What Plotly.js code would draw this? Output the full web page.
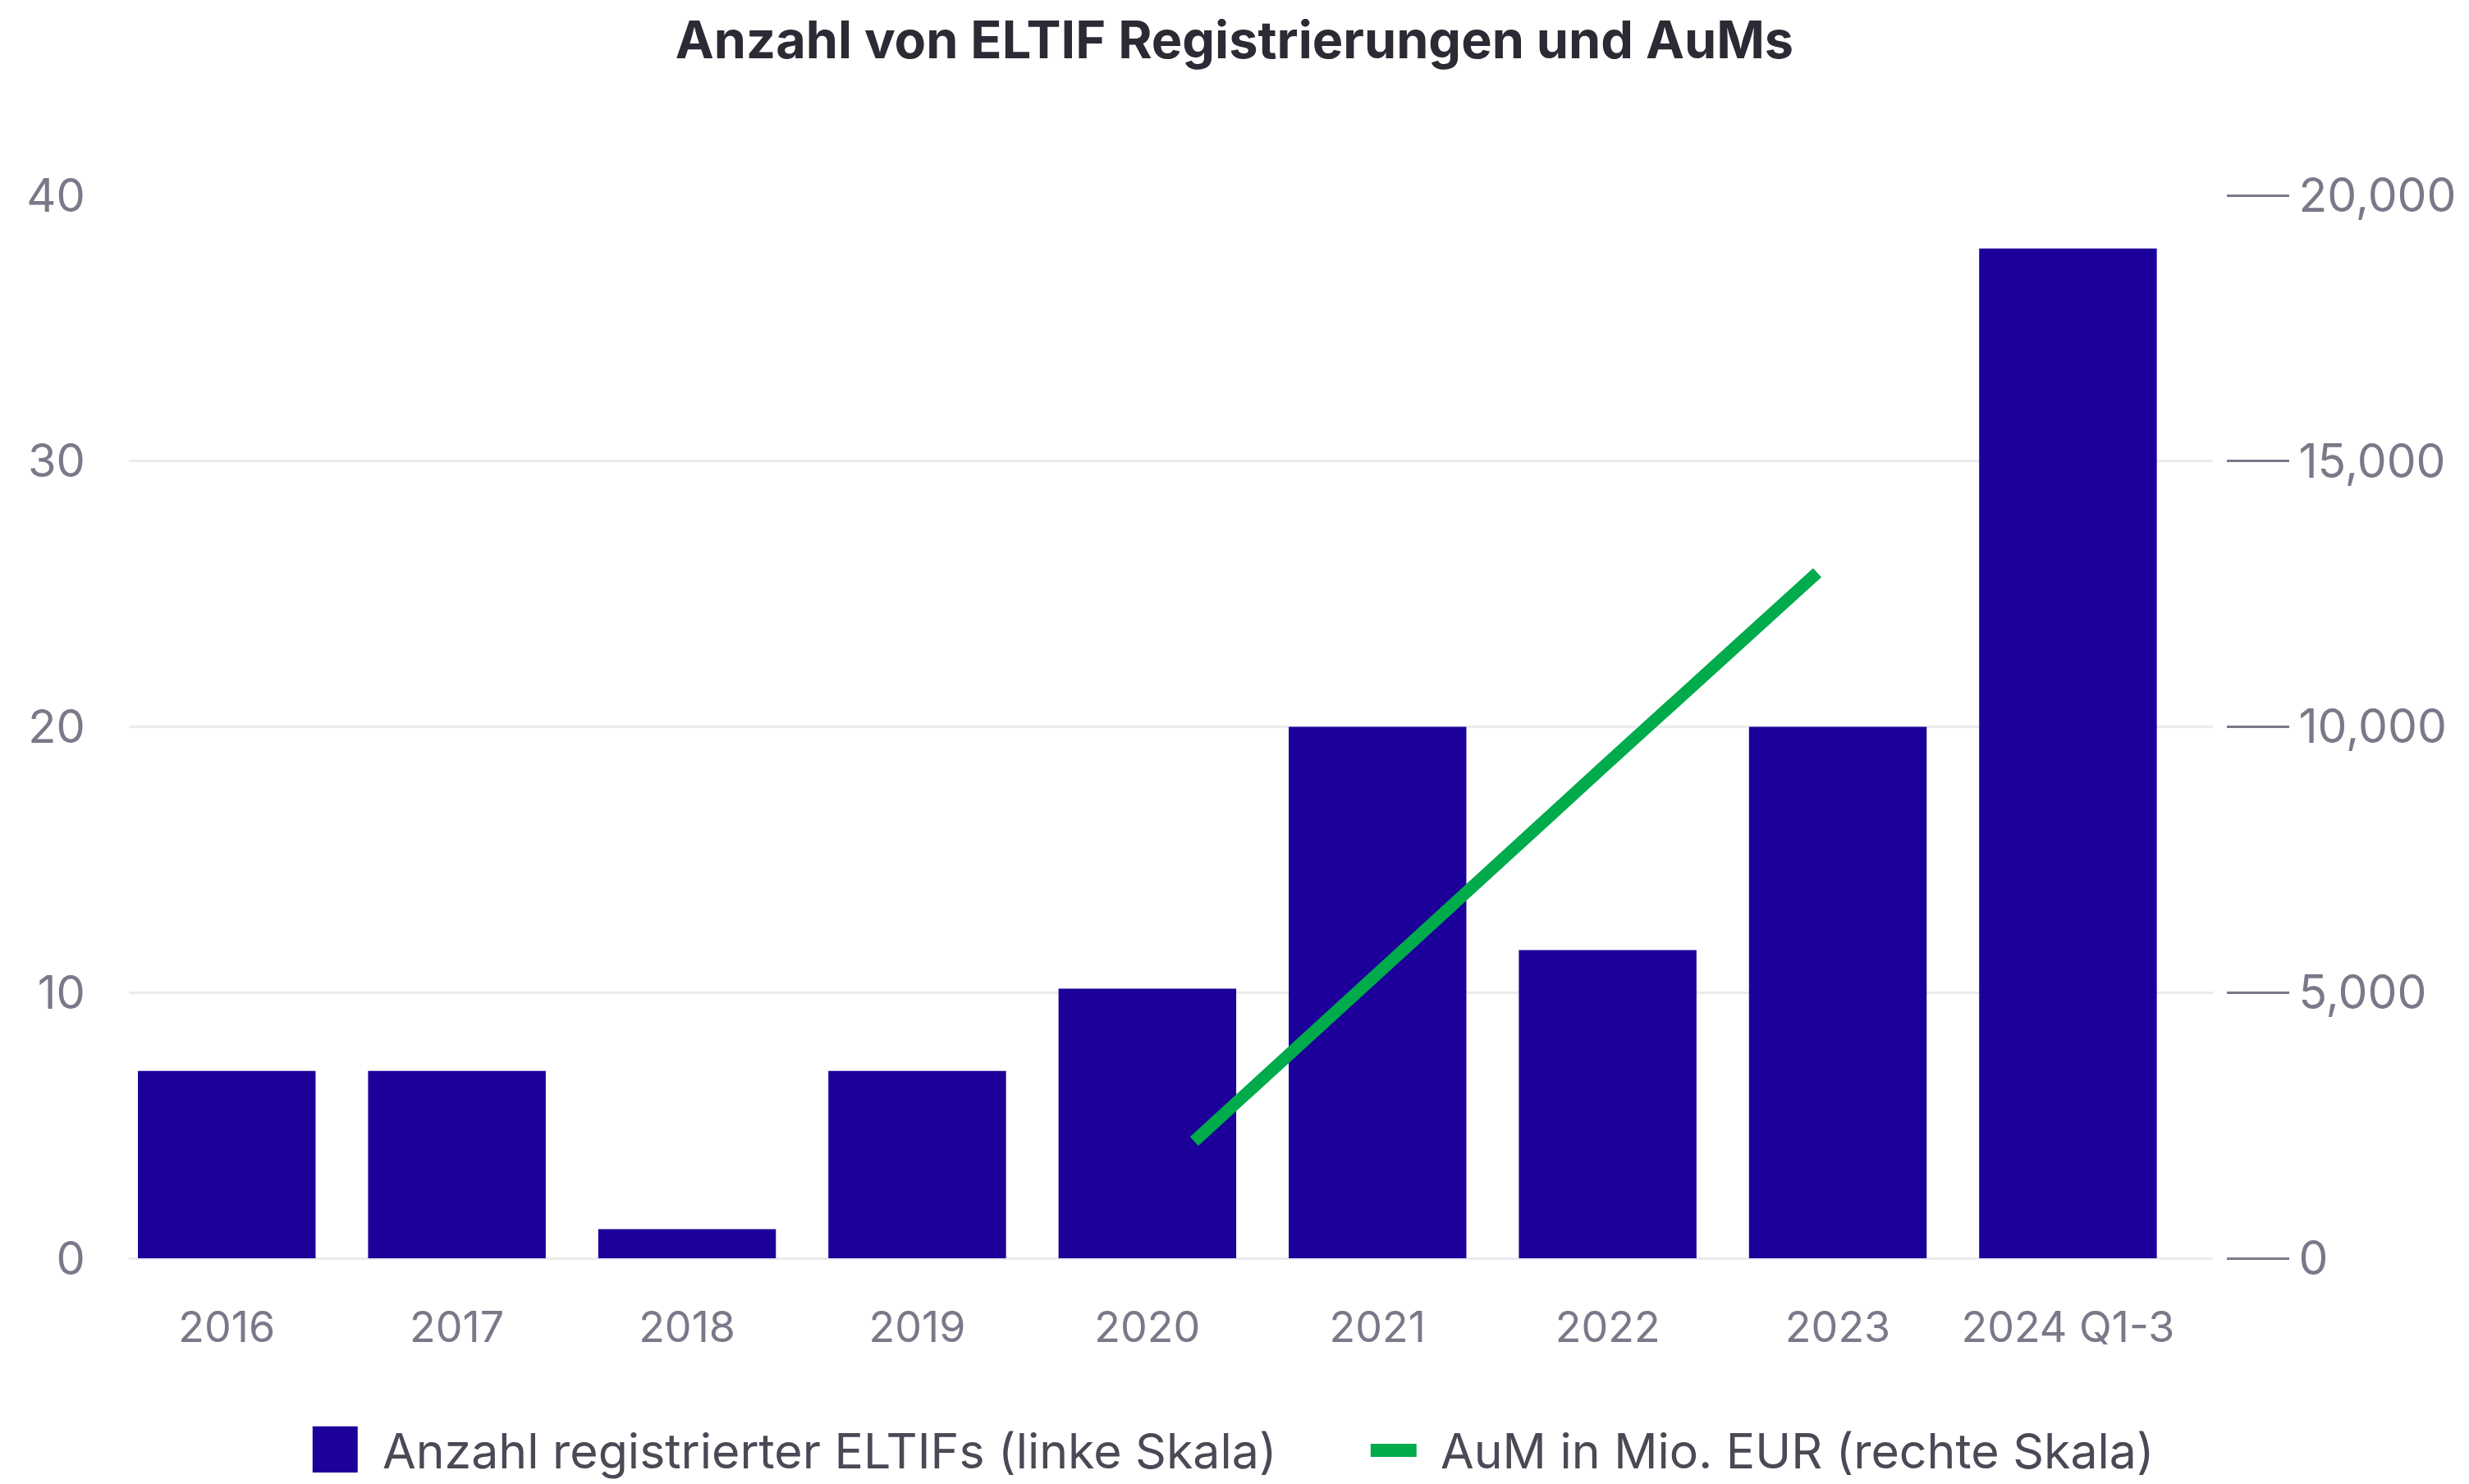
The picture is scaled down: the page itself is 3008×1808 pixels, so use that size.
<!DOCTYPE html>
<html>
<head>
<meta charset="utf-8">
<script src="https://cdn.plot.ly/plotly-3.0.1.min.js"></script>
<style>
  html, body { margin: 0; padding: 0; background: #fff; }
  #chart { width: 3008px; height: 1808px; }
</style>
</head>
<body>
<div id="chart"></div>
<script>
// categories and series
const years = ['2016', '2017', '2018', '2019', '2020', '2021', '2022', '2023', '2024 Q1-3'];
const eltifCount = [7.05, 7.05, 1.1, 7.05, 10.15, 20, 11.6, 20, 38];

const aumYears = [2020, 2021, 2022, 2023];
const aumMio = [2200, 5800, 9350, 12900];

const barName = 'Anzahl registrierter ELTIFs (linke Skala)';
const lineName = 'AuM in Mio. EUR (rechte Skala)';

const barColor = '#1c0099';
const lineColor = '#00ab4b';
const tickGrey = '#7b7889';
const gridGrey = '#ebebee';
const fontFamily = 'Inter, "Noto Sans", sans-serif';

const bars = {
    x: years, y: eltifCount, name: barName,
    type: 'bar', marker: { color: barColor },
    xaxis: 'x', yaxis: 'y',
    showlegend: false, hoverinfo: 'x+y'
};

const line = {
    x: aumYears, y: aumMio, name: lineName,
    type: 'scatter', mode: 'lines',
    line: { color: lineColor, width: 15 },
    xaxis: 'x2', yaxis: 'y2',
    showlegend: false
};

const layout = {
    width: 3008, height: 1808,
    paper_bgcolor: '#fff', plot_bgcolor: '#fff',
    font: { family: fontFamily, color: tickGrey },
    margin: { l: 157, r: 296, t: 238, b: 275, pad: 0 },
    bargap: 0.228,
    title: {
        text: 'Anzahl von ELTIF Registrierungen und AuMs',
        font: { family: fontFamily, size: 63, weight: 700, color: '#2d2a35' },
        xref: 'container', x: 0.5, y: 0.973, yref: 'container', yanchor: 'middle'
    },
    xaxis: {
        type: 'category', domain: [0, 0.99374], range: [-0.4253, 8.6297],
        showgrid: false, zeroline: false, showline: false,
        ticks: 'outside', ticklen: 39, tickcolor: 'rgba(0,0,0,0)',
        tickfont: { size: 52, color: tickGrey }
    },
    xaxis2: {
        type: 'linear', overlaying: 'x', range: [2014.871, 2024.905],
        visible: false
    },
    yaxis: {
        range: [0, 40], dtick: 10,
        showgrid: true, gridcolor: gridGrey, gridwidth: 3,
        zeroline: true, zerolinecolor: gridGrey, zerolinewidth: 3,
        showline: false,
        ticks: 'outside', ticklen: 41, tickcolor: 'rgba(0,0,0,0)',
        tickfont: { size: 56, color: tickGrey }
    },
    yaxis2: {
        overlaying: 'y', side: 'right', anchor: 'free', position: 1,
        range: [0, 20000], dtick: 5000, tickformat: ',',
        showgrid: false, zeroline: false, showline: false,
        ticks: 'outside', ticklen: 76, tickwidth: 3, tickcolor: tickGrey,
        tickfont: { size: 57, color: tickGrey }
    },
    // legend drawn by hand so the symbols can be as big as in the reference
    shapes: [
        { type: 'rect', xref: 'paper', yref: 'paper',
          x0: 0.0876, x1: 0.1091, y0: -0.2015, y1: -0.1581,
          fillcolor: barColor, line: { width: 0 } },
        { type: 'line', xref: 'paper', yref: 'paper',
          x0: 0.5921, x1: 0.6140, y0: -0.1807, y1: -0.1807,
          line: { color: lineColor, width: 16 } }
    ],
    annotations: [
        { text: barName, xref: 'paper', yref: 'paper', x: 0.1201, y: -0.1807,
          xanchor: 'left', yanchor: 'middle', showarrow: false,
          font: { family: fontFamily, size: 59, color: '#4b4955' } },
        { text: lineName, xref: 'paper', yref: 'paper', x: 0.6246, y: -0.1807,
          xanchor: 'left', yanchor: 'middle', showarrow: false,
          font: { family: fontFamily, size: 59, color: '#4b4955' } }
    ]
};

Plotly.newPlot('chart', [bars, line], layout, { displayModeBar: false, staticPlot: true });
</script>
</body>
</html>
